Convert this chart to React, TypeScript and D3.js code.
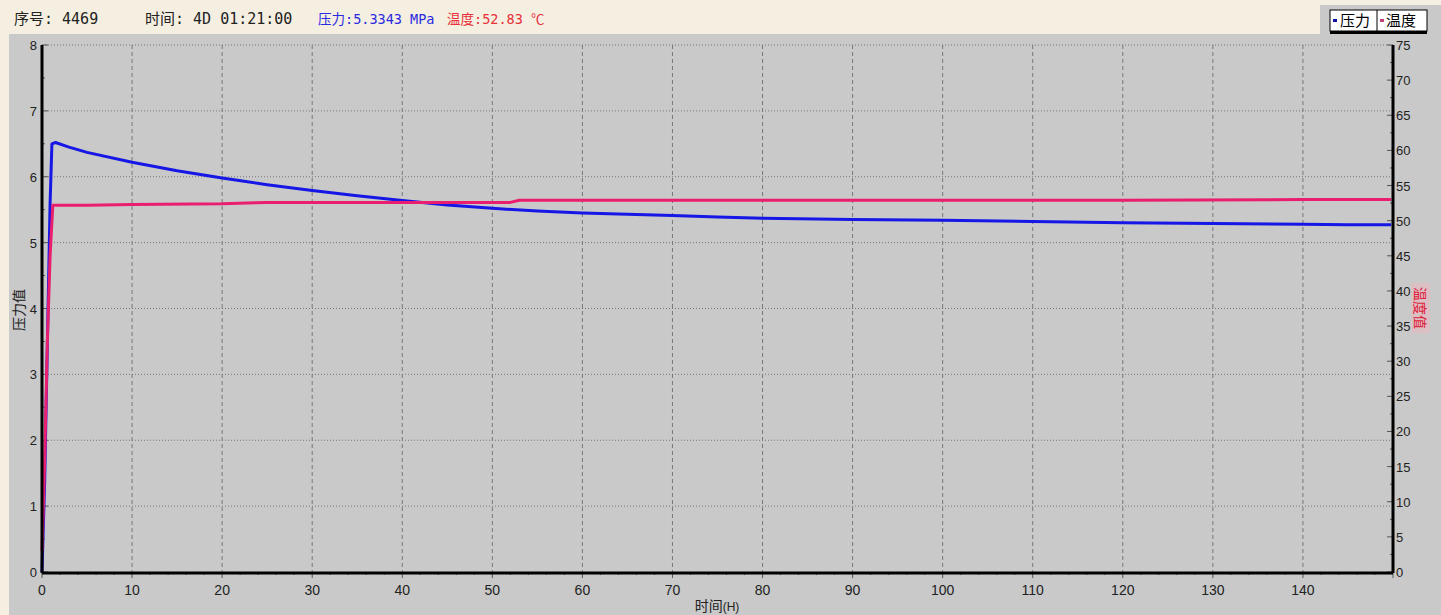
import React from "react";
import * as d3 from "d3";

const pressureHours = [0, 0.3, 0.6, 0.9, 1.1, 1.5, 3, 5, 10, 15, 20, 25, 30, 35, 40, 45, 50, 55, 60, 65, 70, 75, 80, 90, 100, 110, 120, 130, 140, 145, 149.8];
const pressureValues = [0, 1.4, 3.5, 5.6, 6.5, 6.52, 6.45, 6.37, 6.22, 6.09, 5.98, 5.88, 5.79, 5.71, 5.64, 5.57, 5.52, 5.48, 5.45, 5.43, 5.41, 5.39, 5.37, 5.35, 5.34, 5.32, 5.3, 5.29, 5.28, 5.27, 5.27];
const tempHours = [0, 0.3, 0.6, 0.9, 1.2, 5, 10, 20, 25, 40, 52, 53, 80, 100, 120, 140, 149.8];
const tempValues = [3, 16, 33, 45, 52.2, 52.2, 52.3, 52.4, 52.6, 52.6, 52.6, 52.9, 52.9, 52.9, 52.9, 53, 53];
const xTicks = [0, 10, 20, 30, 40, 50, 60, 70, 80, 90, 100, 110, 120, 130, 140];
const leftTicks = [0, 1, 2, 3, 4, 5, 6, 7, 8];
const rightTicks = [0, 5, 10, 15, 20, 25, 30, 35, 40, 45, 50, 55, 60, 65, 70, 75];

export default function App() {
  const W = 1441, H = 615;
  const L = 42, R = 1393, T = 45, B = 572;
  const x = d3.scaleLinear().domain([0, 150]).range([L, R]);
  const yL = d3.scaleLinear().domain([0, 8]).range([B, T]);
  const yR = d3.scaleLinear().domain([0, 75]).range([B, T]);
  const pLine = d3.line<number>().x((_, i) => x(pressureHours[i])).y((d) => yL(d));
  const tLine = d3.line<number>().x((_, i) => x(tempHours[i])).y((d) => yR(d));
  const minorX = d3.range(0, 151, 2);
  const minorL = d3.range(0, 8.01, 0.5);
  const minorR = d3.range(0, 75.1, 2.5);
  const labelFont = "'Liberation Sans', Arial, sans-serif";
  const cjk = "'DejaVu Sans Mono', 'Noto Sans CJK SC', monospace";
  return (
    <svg width={W} height={H} style={{ position: "absolute", left: 0, top: 0 }}>
      <rect x={0} y={0} width={W} height={H} fill="#f4efe0" />
      <rect x={9} y={34} width={W - 9} height={H - 34} fill="#c9c9c9" />
      <rect x={1320} y={5} width={W - 1320} height={30} fill="#c9c9c9" />
      {/* header */}
      <text x={14} y={24} fontSize={15} fontFamily={cjk} fill="#222">序号: 4469</text>
      <text x={145} y={24} fontSize={15} fontFamily={cjk} fill="#222">时间: 4D 01:21:00</text>
      <text x={318} y={24} fontSize={13.5} fontFamily={cjk} fill="#2a2ae0">压力:5.3343 MPa</text>
      <text x={447} y={24} fontSize={13.5} fontFamily={cjk} fill="#e8303a">温度:52.83 ℃</text>
      {/* grid */}
      {leftTicks.slice(1).map((v) => (
        <line key={"h" + v} x1={L} x2={R} y1={yL(v)} y2={yL(v)} stroke="#777" strokeWidth={1} strokeDasharray="1,2" />
      ))}
      {xTicks.slice(1).map((v) => (
        <line key={"v" + v} x1={x(v)} x2={x(v)} y1={T} y2={B} stroke="#777" strokeWidth={1} strokeDasharray="4,3" />
      ))}
      {/* minor ticks */}
      {minorX.map((v) => (
        <line key={"mx" + v} x1={x(v)} x2={x(v)} y1={B} y2={B + (v % 10 === 0 ? 6 : 3)} stroke="#555" />
      ))}
      {minorL.map((v) => (
        <line key={"ml" + v} x1={L} x2={L + (v % 1 === 0 ? 6 : 3)} y1={yL(v)} y2={yL(v)} stroke="#555" />
      ))}
      {minorR.map((v) => (
        <line key={"mr" + v} x1={R} x2={R - (v % 5 === 0 ? 6 : 3)} y1={yR(v)} y2={yR(v)} stroke="#555" />
      ))}
      {/* data */}
      <path d={pLine(pressureValues) || ""} fill="none" stroke="#1616e6" strokeWidth={3} strokeLinejoin="round" />
      <path d={tLine(tempValues) || ""} fill="none" stroke="#ea1e6e" strokeWidth={3} strokeLinejoin="round" />
      {/* axes */}
      <line x1={L} x2={L} y1={T} y2={B + 1} stroke="#000" strokeWidth={3} />
      <line x1={R} x2={R} y1={T} y2={B + 1} stroke="#000" strokeWidth={3} />
      <line x1={L} x2={R} y1={B + 1} y2={B + 1} stroke="#000" strokeWidth={3} />
      {/* tick labels */}
      {leftTicks.map((v) => (
        <text key={"lt" + v} x={L - 5} y={yL(v) + 5} fontSize={13} fontFamily={labelFont} textAnchor="end" fill="#222">{v}</text>
      ))}
      {rightTicks.map((v) => (
        <text key={"rt" + v} x={R + 3} y={yR(v) + 5} fontSize={13} fontFamily={labelFont} fill="#222">{v}</text>
      ))}
      {xTicks.map((v) => (
        <text key={"xt" + v} x={x(v)} y={B + 23} fontSize={14} fontFamily={labelFont} textAnchor="middle" fill="#222">{v}</text>
      ))}
      {/* axis titles */}
      <text x={717} y={611} fontSize={14} fontFamily="'Noto Sans CJK SC', sans-serif" textAnchor="middle" fill="#222">时间<tspan fontSize={12} fontFamily={labelFont}>(H)</tspan></text>
      <text transform="translate(24,310) rotate(-90)" fontSize={14} fontFamily="'Noto Sans CJK SC', sans-serif" textAnchor="middle" fill="#222">压力值</text>
      <rect x={1411} y={283} width={19} height={50} fill="#e9b9c0" opacity={0.6} />
      <text transform="translate(1415,308) rotate(90)" fontSize={14} fontFamily="'Noto Sans CJK SC', sans-serif" textAnchor="middle" fill="#e0203a">温度值</text>
      {/* legend */}
      <rect x={1330} y={30} width={97} height={4} fill="#000" />
      <rect x={1330} y={10} width={97} height={21} fill="#fff" stroke="#000" strokeWidth={1} />
      <line x1={1377} x2={1377} y1={10} y2={31} stroke="#000" />
      <rect x={1333} y={19} width={4} height={3} fill="#1010a0" />
      <text x={1340} y={26} fontSize={15} fontFamily="'Noto Sans CJK SC', sans-serif" fill="#000">压力</text>
      <rect x={1380} y={19} width={4} height={3} fill="#c0407a" />
      <text x={1386} y={26} fontSize={15} fontFamily="'Noto Sans CJK SC', sans-serif" fill="#000">温度</text>
    </svg>
  );
}
